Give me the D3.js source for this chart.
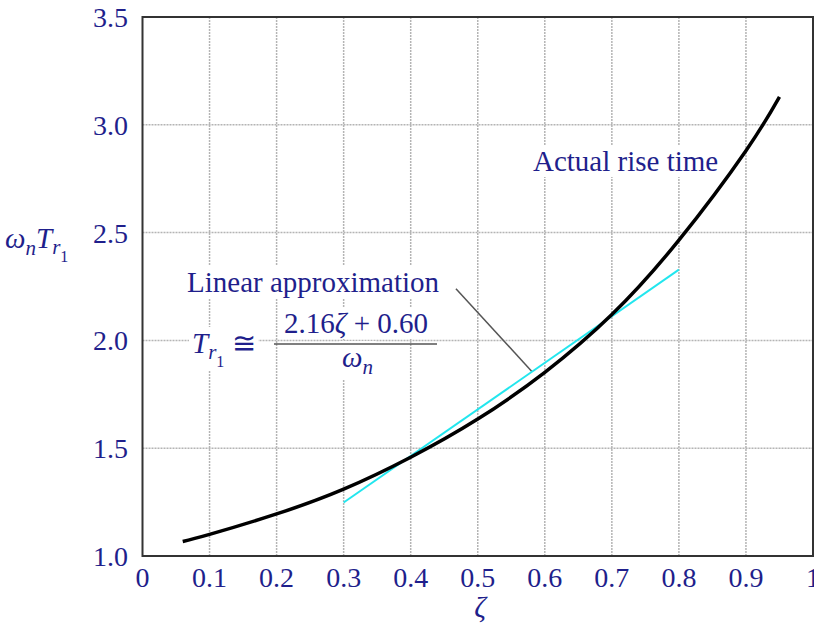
<!DOCTYPE html>
<html>
<head>
<meta charset="utf-8">
<script src="https://cdn.jsdelivr.net/npm/d3@7"></script>
<style>
  body { margin: 0; background: #fff; }
  text { font-family: "Liberation Serif", "DejaVu Serif", serif; fill: #1f1f8c; }
</style>
</head>
<body>
<svg id="chart" width="814" height="638"></svg>
<script>
// data
var zeta = [0.06, 0.1, 0.2, 0.3, 0.4, 0.5, 0.6, 0.7, 0.8, 0.9, 0.95];
var riseTime = [1.067, 1.10, 1.195, 1.31, 1.458, 1.635, 1.852, 2.12, 2.465, 2.88, 3.13];
var approxZeta = [0.3, 0.8];
var approxValue = [1.248, 2.328];
var xTicks = [0, 0.1, 0.2, 0.3, 0.4, 0.5, 0.6, 0.7, 0.8, 0.9, 1];
var yTicks = [1.0, 1.5, 2.0, 2.5, 3.0, 3.5];
var leader = [[0.4675, 2.24], [0.581, 1.855]];

var svg = d3.select("#chart");
var x = d3.scaleLinear().domain([0, 1]).range([142.5, 813]);
var y = d3.scaleLinear().domain([1, 3.5]).range([556, 17]);

// grid
var grid = svg.append("g").attr("stroke", "#b4b4b4").attr("stroke-width", 1.5)
  .attr("stroke-dasharray", "2,1");
grid.selectAll("line.v").data(xTicks.slice(1, -1)).enter().append("line")
  .attr("x1", d => x(d)).attr("x2", d => x(d)).attr("y1", y(1)).attr("y2", y(3.5));
grid.selectAll("line.h").data(yTicks.slice(1, -1)).enter().append("line")
  .attr("y1", d => y(d)).attr("y2", d => y(d)).attr("x1", x(0)).attr("x2", x(1));

// tick labels
svg.append("g").selectAll("text").data(xTicks).enter().append("text")
  .attr("x", d => x(d)).attr("y", y(1) + 31)
  .attr("text-anchor", "middle").attr("font-size", 28)
  .text(d => d === 0 || d === 1 ? d : d.toFixed(1));
svg.append("g").selectAll("text").data(yTicks).enter().append("text")
  .attr("x", 128).attr("y", d => y(d) + 10)
  .attr("text-anchor", "end").attr("font-size", 28)
  .text(d => d.toFixed(1));

// annotations (white boxes hide the grid behind them)
var ann = svg.append("g");
function label(g, px, py, size, parts, anchor) {
  var t = g.append("text").attr("x", px).attr("y", py).attr("font-size", size);
  if (anchor) t.attr("text-anchor", anchor);
  parts.forEach(function(p) {
    var s = t.append("tspan").text(p.t);
    if (p.i) s.attr("font-style", "italic");
    if (p.dy) s.attr("dy", p.dy);
    if (p.fs) s.attr("font-size", p.fs);
  });
  return t;
}
var boxes = ann.append("g");
var items = [];
items.push(label(ann, 533, 171, 29, [{t: "Actual rise time"}]));
items.push(label(ann, 187, 292, 29, [{t: "Linear approximation"}]));
items.push(label(ann, 192, 353, 29, [{t: "T", i: 1}, {t: "r", i: 1, fs: 21, dy: 6}, {t: "1", fs: 16, dy: 8}, {t: " \u2245", dy: -14}]));
items.push(label(ann, 356, 333, 29, [{t: "2.16"}, {t: "\u03b6", i: 1}, {t: " + 0.60"}], "middle"));
items.push(label(ann, 342, 367, 29, [{t: "\u03c9", i: 1}, {t: "n", i: 1, fs: 21, dy: 7}]));
items.forEach(function(t) {
  var b = t.node().getBBox();
  boxes.append("rect").attr("x", b.x - 3).attr("y", b.y).attr("width", b.width + 6)
    .attr("height", b.height).attr("fill", "#fff");
});
ann.append("line").attr("x1", 274).attr("x2", 437).attr("y1", 344).attr("y2", 344)
  .attr("stroke", "#555").attr("stroke-width", 1.5);

// axis titles
label(svg, 5, 248, 29, [{t: "\u03c9", i: 1}, {t: "n", i: 1, fs: 21, dy: 7}, {t: "T", i: 1, dy: -7}, {t: "r", i: 1, fs: 21, dy: 6}, {t: "1", fs: 16, dy: 8}]);
label(svg, 480, 617, 29, [{t: "\u03b6", i: 1}], "middle");

// leader line
svg.append("line")
  .attr("x1", x(leader[0][0])).attr("y1", y(leader[0][1]))
  .attr("x2", x(leader[1][0])).attr("y2", y(leader[1][1]))
  .attr("stroke", "#555").attr("stroke-width", 1.5);

// linear approximation
svg.append("line")
  .attr("x1", x(approxZeta[0])).attr("y1", y(approxValue[0]))
  .attr("x2", x(approxZeta[1])).attr("y2", y(approxValue[1]))
  .attr("stroke", "#22e6ee").attr("stroke-width", 2);

// actual rise time
var line = d3.line().x(d => x(d[0])).y(d => y(d[1])).curve(d3.curveNatural);
svg.append("path").datum(d3.zip(zeta, riseTime)).attr("d", line)
  .attr("fill", "none").attr("stroke", "#000").attr("stroke-width", 3.5);

// frame
svg.append("rect").attr("x", x(0)).attr("y", y(3.5))
  .attr("width", x(1) - x(0)).attr("height", y(1) - y(3.5))
  .attr("fill", "none").attr("stroke", "#333").attr("stroke-width", 2);
</script>
</body>
</html>
